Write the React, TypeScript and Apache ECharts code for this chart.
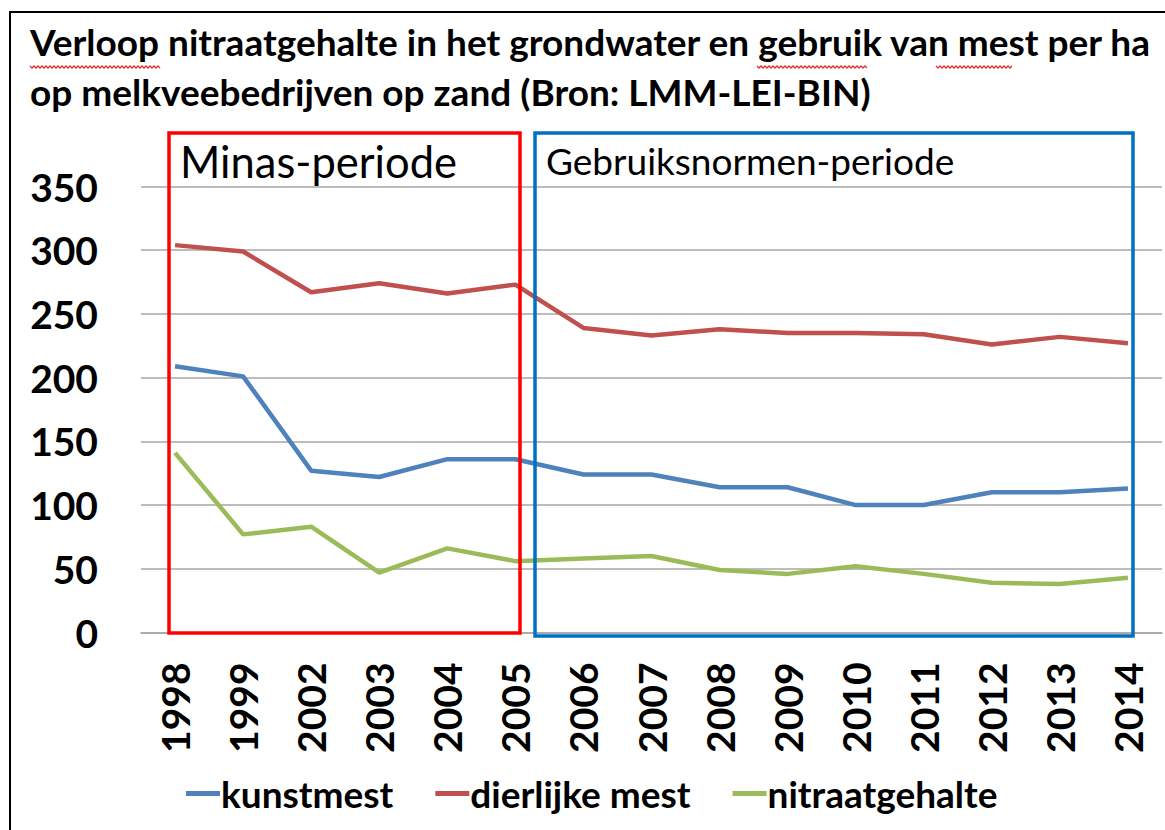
import React, { useEffect, useRef } from "react";
import * as echarts from "echarts";

const years = ["1998", "1999", "2002", "2003", "2004", "2005", "2006", "2007", "2008", "2009", "2010", "2011", "2012", "2013", "2014"];
const kunstmest = [209, 201, 127, 122, 136, 136, 124, 124, 114, 114, 100, 100, 110, 110, 113];
const dierlijkeMest = [304, 299, 267, 274, 266, 273, 239, 233, 238, 235, 235, 234, 226, 232, 227];
const nitraatgehalte = [141, 77, 83, 47, 66, 56, 58, 60, 49, 46, 52, 46, 39, 38, 43];
const seriesNames = ["kunstmest", "dierlijke mest", "nitraatgehalte"];
const seriesColors = ["#4F81BD", "#C0504D", "#9BBB59"];
const titleLines = ["Verloop nitraatgehalte in het grondwater en gebruik van mest per ha", "op melkveebedrijven op zand (Bron: LMM-LEI-BIN)"];
const periodLabels = ["Minas-periode", "Gebruiksnormen-periode"];

const FONT = "Lato";

function squiggle(x0: number, x1: number, y: number) {
  const pts: number[][] = [];
  let up = true;
  for (let x = x0; x <= x1; x += 2) {
    pts.push([x, up ? y : y + 2]);
    up = !up;
  }
  return {
    type: "polyline",
    silent: true,
    shape: { points: pts },
    style: { stroke: "#E53030", lineWidth: 1.3, fill: null },
  };
}

export default function App() {
  const ref = useRef<HTMLDivElement>(null);
  useEffect(() => {
    if (!ref.current) return;
    const chart = echarts.init(ref.current, null, { renderer: "svg" });
    const allSeries = [kunstmest, dierlijkeMest, nitraatgehalte];
    chart.setOption({
      animation: false,
      backgroundColor: "#ffffff",
      textStyle: { fontFamily: FONT },
      grid: { left: 141, right: 3, top: 186.5, bottom: 197.5, containLabel: false },
      legend: {
        left: 181,
        top: 770,
        icon: "rect",
        itemWidth: 34,
        itemHeight: 5,
        itemGap: 42,
        data: seriesNames,
        textStyle: { fontFamily: FONT, fontWeight: "bold", fontSize: 37, color: "#000", padding: [0, 0, 0, -4] },
      },
      xAxis: {
        type: "category",
        data: years,
        boundaryGap: true,
        axisLine: { lineStyle: { color: "#A6A6A6", width: 1.5 } },
        axisTick: { show: false },
        axisLabel: {
          rotate: 90,
          margin: 30,
          fontFamily: FONT,
          fontWeight: "bold",
          fontSize: 39,
          color: "#000",
          interval: 0,
        },
      },
      yAxis: {
        type: "value",
        min: 0,
        max: 350,
        interval: 50,
        axisLine: { show: false },
        axisTick: { show: false },
        splitLine: { lineStyle: { color: "#A6A6A6", width: 1.5 } },
        axisLabel: { margin: 43, fontFamily: FONT, fontWeight: "bold", fontSize: 39, color: "#000" },
      },
      series: allSeries.map((d, i) => ({
        name: seriesNames[i],
        type: "line",
        data: d,
        symbol: "none",
        color: seriesColors[i],
        lineStyle: { width: 4.5, color: seriesColors[i] },
        z: 3,
      })),
      graphic: [
        { type: "line", silent: true, shape: { x1: 9, y1: 12, x2: 1165, y2: 12 }, style: { stroke: "#000", lineWidth: 2 } },
        { type: "line", silent: true, shape: { x1: 10, y1: 11, x2: 10, y2: 830 }, style: { stroke: "#000", lineWidth: 2 } },
        {
          type: "text",
          silent: true,
          left: 30,
          top: 23,
          style: { text: titleLines[0], fontFamily: FONT, fontWeight: "bold", fontSize: 37, fill: "#000" },
        },
        {
          type: "text",
          silent: true,
          left: 30,
          top: 73,
          style: { text: titleLines[1], fontFamily: FONT, fontWeight: "bold", fontSize: 37, fill: "#000" },
        },
        squiggle(30, 160, 66),
        squiggle(757, 868, 66),
        squiggle(936, 1013, 66),
        {
          type: "rect",
          silent: true,
          shape: { x: 169, y: 133, width: 351, height: 500 },
          style: { stroke: "#FF0000", lineWidth: 3.5, fill: null },
          z: 10,
        },
        {
          type: "rect",
          silent: true,
          shape: { x: 535, y: 133, width: 598, height: 503 },
          style: { stroke: "#0070C0", lineWidth: 3.5, fill: null },
          z: 10,
        },
        {
          type: "text",
          silent: true,
          left: 180,
          top: 139,
          style: { text: periodLabels[0], fontFamily: FONT, fontSize: 43.5, fill: "#000" },
          z: 11,
        },
        {
          type: "text",
          silent: true,
          left: 546,
          top: 142,
          style: { text: periodLabels[1], fontFamily: FONT, fontSize: 37, fill: "#000" },
          z: 11,
        },
      ],
    });
    return () => chart.dispose();
  }, []);
  return <div ref={ref} style={{ position: "absolute", left: 0, top: 0, width: 1165, height: 830 }} />;
}
